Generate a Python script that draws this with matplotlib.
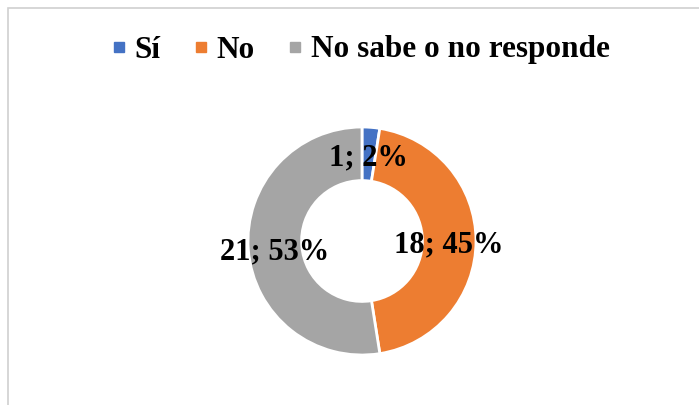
import numpy as np
import matplotlib.pyplot as plt
from matplotlib.lines import Line2D
from matplotlib.patches import Rectangle

# Survey answers
categories = ['Sí', 'No', 'No sabe o no responde']
counts = [1, 18, 21]
pct_labels = ['2%', '45%', '53%']
colors = ['#4472C4', '#ED7D31', '#A5A5A5']

plt.rcParams['font.family'] = ['Liberation Serif', 'DejaVu Serif']

W, H = 699, 405
fig = plt.figure(figsize=(W / 100, H / 100), dpi=100)

# light gray chart border (top and left visible)
fig.patches.append(Rectangle((8 / W, -0.1), 1.2, (H - 8) / H + 0.1, transform=fig.transFigure,
                             fill=False, edgecolor='#D0D0D0', linewidth=1.2))

# donut, centre ~(362, 241) px, outer radius ~114 px
cx, cy, r = 362, 241, 114
ax = fig.add_axes([(cx - r) / W, (H - cy - r) / H, 2 * r / W, 2 * r / H])
labels = [f'{c}; {p}' for c, p in zip(counts, pct_labels)]
wedges, _ = ax.pie(counts, colors=colors, startangle=90, counterclock=False,
                   wedgeprops=dict(width=0.47, edgecolor='white', linewidth=2))
# data labels in the middle of the ring
total = sum(counts)
start = 90.0
for c, lab in zip(counts, labels):
    span = 360.0 * c / total
    mid = np.deg2rad(start - span / 2)
    ax.annotate(lab, (0.765 * np.cos(mid), 0.765 * np.sin(mid)), xytext=(0, -3),
                textcoords='offset points', ha='center', va='center',
                fontsize=22, fontweight='bold', color='black')
    start -= span
ax.set_xlim(-1, 1)
ax.set_ylim(-1, 1)
ax.set_aspect('auto')

handles = [Line2D([], [], marker='s', linestyle='none', markersize=7.5, color=c) for c in colors]
fig.legend(handles, categories, loc='center', bbox_to_anchor=(359.5 / W, 1 - 50 / H), ncol=3,
           frameon=False, prop=dict(size=22.5, weight='bold'), handlelength=0.6,
           handletextpad=0.2, columnspacing=1.0)

fig.savefig('out.png', dpi=100)
